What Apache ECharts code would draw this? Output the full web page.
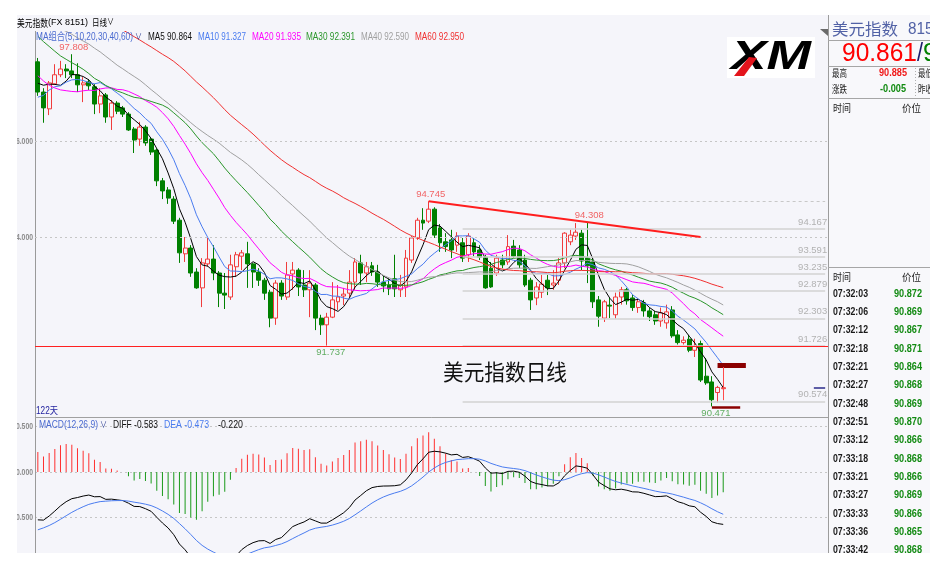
<!DOCTYPE html>
<html>
<head>
<meta charset="utf-8">
<script src="https://cdn.jsdelivr.net/npm/echarts/dist/echarts.min.js"></script>
<style>
  html, body { margin: 0; padding: 0; background: #ffffff; }
  #chart { width: 944px; height: 578px; }
</style>
</head>
<body>
<div id="chart"></div>
<script>
// ---- daily closes before the first drawn session (seed the moving averages and MACD only)
const earlierCloses = [
  99.0, 99.6, 100.2, 100.6, 100.7, 100.0, 100.1, 99.5, 99.5, 99.4, 98.9, 99.4, 100.0, 99.7, 99.9, 100.2, 100.4, 100.4, 100.4, 100.0, 99.8, 99.5, 99.0,
  99.1, 99.5, 99.8, 100.1, 99.9, 99.7, 100.2, 100.0, 100.2, 100.4, 100.4, 99.6, 99.5, 99.1, 99.4, 99.8, 99.8, 98.9, 99.0, 98.5, 98.3,
  97.8, 97.7, 97.3, 96.8, 96.9, 96.9, 96.3, 96.1, 96.7, 97.3, 96.7, 96.9, 97.1, 97.4, 97.6
];

// ---- daily candles (122 sessions)
const opens = [
  97.65, 97.02, 96.67, 97.19, 97.38, 97.50, 97.46, 97.38, 97.17, 97.23,
  97.13, 96.77, 96.96, 96.50, 96.79, 96.69, 96.56, 96.25, 96.04, 96.29,
  96.04, 95.81, 95.17, 94.98, 94.79, 94.35, 93.65, 93.77, 93.27, 92.94,
  93.44, 93.54, 93.25, 92.83, 92.75, 93.38, 93.60, 93.65, 93.44, 93.27,
  93.10, 92.85, 92.31, 93.04, 92.75, 93.23, 93.31, 93.00, 92.90, 93.00,
  92.31, 92.17, 92.33, 92.65, 92.77, 92.83, 93.06, 93.46, 93.25, 93.40,
  93.27, 93.06, 93.00, 93.13, 92.90, 92.96, 93.52, 93.98, 94.35, 94.33,
  94.58, 94.19, 93.90, 93.94, 93.83, 93.88, 93.63, 93.88, 93.73, 93.58,
  93.35, 93.25, 93.52, 93.48, 93.81, 93.73, 93.52, 93.10, 92.73, 92.85,
  93.10, 93.00, 93.10, 93.46, 93.90, 94.02, 94.08, 93.56, 93.48, 92.69,
  92.31, 92.58, 92.38, 92.75, 92.90, 92.73, 92.53, 92.63, 92.46, 92.38,
  92.25, 92.21, 92.48, 91.96, 91.80, 91.87, 91.64, 91.78, 91.10, 90.98,
  90.76, 90.84
];
const closes = [
  97.02, 96.69, 97.21, 97.38, 97.50, 97.46, 97.38, 97.17, 97.21, 97.15,
  96.77, 96.94, 96.50, 96.79, 96.62, 96.56, 96.23, 96.02, 96.29, 95.96,
  95.77, 95.17, 94.96, 94.81, 94.33, 93.67, 93.77, 93.25, 92.94, 93.46,
  93.54, 93.25, 92.83, 92.79, 93.42, 93.63, 93.67, 93.44, 93.27, 93.10,
  92.83, 92.31, 93.04, 92.77, 93.21, 93.31, 92.96, 92.90, 93.04, 92.31,
  92.17, 92.33, 92.69, 92.75, 92.81, 93.06, 93.48, 93.25, 93.38, 93.27,
  93.06, 92.98, 92.92, 92.92, 93.00, 93.56, 93.98, 94.35, 94.29, 94.58,
  94.04, 93.88, 93.80, 93.73, 94.02, 93.56, 94.02, 93.69, 93.58, 92.94,
  92.96, 93.56, 93.42, 93.80, 93.60, 93.42, 93.00, 92.69, 92.96, 93.02,
  92.94, 93.04, 93.46, 94.08, 94.04, 94.10, 93.50, 93.40, 92.65, 92.35,
  92.65, 92.56, 92.75, 92.90, 92.67, 92.53, 92.65, 92.46, 92.34, 92.25,
  92.42, 92.44, 91.94, 91.80, 91.85, 91.64, 91.72, 91.02, 90.96, 90.61,
  90.866, 90.861
];
const lows = [
  96.94, 96.38, 96.54, 97.17, 97.33, 97.31, 97.31, 97.02, 96.81, 97.06,
  96.56, 96.58, 96.38, 96.23, 96.56, 96.50, 96.21, 95.75, 95.90, 95.90,
  95.71, 95.06, 94.79, 94.69, 94.27, 93.46, 93.48, 93.17, 92.92, 92.54,
  93.38, 93.10, 92.54, 92.50, 92.69, 93.17, 93.31, 92.94, 92.94, 92.98,
  92.69, 92.12, 92.17, 92.69, 92.69, 92.90, 92.77, 92.75, 92.33, 92.06,
  91.96, 91.737, 92.31, 92.48, 92.58, 92.75, 92.90, 93.00, 93.06, 93.19,
  92.96, 92.85, 92.79, 92.75, 92.75, 92.75, 93.46, 93.94, 94.15, 94.29,
  93.98, 93.69, 93.69, 93.56, 93.69, 93.48, 93.48, 93.60, 93.52, 92.92,
  92.94, 93.19, 93.35, 93.42, 93.56, 93.35, 92.96, 92.48, 92.58, 92.73,
  92.79, 92.90, 93.00, 93.35, 93.83, 93.94, 93.31, 93.04, 92.52, 92.13,
  92.23, 92.31, 92.30, 92.59, 92.59, 92.46, 92.42, 92.34, 92.25, 92.17,
  92.13, 92.09, 91.90, 91.76, 91.76, 91.60, 91.50, 90.98, 90.92, 90.471,
  90.55, 90.83
];
const highs = [
  97.73, 97.10, 97.25, 97.60, 97.67, 97.60, 97.808, 97.62, 97.33, 97.29,
  97.19, 97.10, 97.00, 96.85, 96.83, 96.73, 96.60, 96.29, 96.40, 96.33,
  96.08, 95.85, 95.23, 95.04, 94.85, 94.40, 94.00, 93.83, 93.35, 93.56,
  93.98, 93.83, 93.29, 93.25, 93.63, 93.69, 93.73, 93.90, 93.46, 93.35,
  93.15, 92.90, 93.10, 93.10, 93.48, 93.48, 93.35, 93.31, 93.31, 93.04,
  92.38, 92.42, 93.06, 93.00, 92.94, 93.31, 93.56, 93.63, 93.48, 93.48,
  93.42, 93.19, 93.13, 93.63, 93.21, 93.73, 94.02, 94.40, 94.60, 94.745,
  94.62, 94.27, 94.08, 94.15, 94.10, 93.98, 94.08, 93.98, 93.83, 93.63,
  93.48, 93.63, 93.63, 94.04, 93.94, 93.83, 93.63, 93.15, 93.06, 93.21,
  93.21, 93.31, 93.56, 94.10, 94.15, 94.29, 94.15, 94.308, 93.56, 92.77,
  92.69, 92.73, 92.84, 92.96, 92.94, 92.80, 92.73, 92.69, 92.53, 92.46,
  92.53, 92.59, 92.56, 92.06, 91.93, 91.96, 91.88, 91.84, 91.48, 91.10,
  90.90, 90.885
];

// ---- indicator settings and header readouts
const maPeriods = [5, 10, 20, 30, 40, 60];
const maNames = ['MA5', 'MA10', 'MA20', 'MA30', 'MA40', 'MA60'];
const maReadouts = ['90.864', '91.327', '91.935', '92.391', '92.590', '92.950'];
const macdReadouts = ['-0.583', '-0.473', '-0.220'];
const priceTicks = [96, 94];
const macdTicks = [0.5, 0, -0.5];

// ---- drawn studies
const fibLevels = [94.167, 93.591, 93.235, 92.879, 92.303, 91.726, 90.574];
const fibTopLevel = 94.745;
const supportLevel = 91.726;
const trendFrom = [69, 94.745];
const trendTo = [117, 94.0];
const rangeTop = 91.32;
const rangeBottom = 90.46;
const extremes = [[6, 'high'], [69, 'high'], [97, 'high'], [51, 'low'], [119, 'low']];

// ---- quote panel
const quoteLast = '90.861';
const quoteHigh = '90.885';
const quoteChange = '-0.005';
const tickTimes = ['07:32:03', '07:32:06', '07:32:12', '07:32:18', '07:32:21', '07:32:27', '07:32:48', '07:32:51',
  '07:33:12', '07:33:18', '07:33:21', '07:33:27', '07:33:33', '07:33:36', '07:33:42'];
const tickPrices = ['90.872', '90.869', '90.867', '90.871', '90.864', '90.868', '90.869', '90.870',
  '90.866', '90.868', '90.866', '90.869', '90.866', '90.865', '90.868'];

// ---------------------------------------------------------------------------
const allCloses = earlierCloses.concat(closes);
const lead = earlierCloses.length;

function movingAverage(n) {
  return closes.map((_, i) => {
    const end = lead + i;
    let s = 0;
    for (let k = end - n + 1; k <= end; k++) s += allCloses[k];
    return +(s / n).toFixed(4);
  });
}
function ema(values, n) {
  const a = 2 / (n + 1);
  const out = [];
  values.forEach((v, i) => out.push(i === 0 ? v : out[i - 1] * (1 - a) + v * a));
  return out;
}
const ema12 = ema(allCloses, 12);
const ema26 = ema(allCloses, 26);
const diffAll = ema12.map((v, i) => v - ema26[i]);
const deaAll = ema(diffAll, 9);
const diffLine = diffAll.slice(lead).map(v => +v.toFixed(4));
const deaLine = deaAll.slice(lead).map(v => +v.toFixed(4));
const macdBars = diffLine.map((v, i) => +(2 * (v - deaLine[i])).toFixed(4));
const maLines = maPeriods.map(movingAverage);

const BG = '#f5f5fa';
const PANEL = '#f8f8fb';
const UP = '#f03c3c';
const DOWN = '#008000';
const maColors = ['#000000', '#4a7cf0', '#ff00ff', '#2a962a', '#a0a0a0', '#f03030'];
const SANS = 'Liberation Sans, Arial, Noto Sans CJK SC, sans-serif';
const CJK = 'Noto Sans CJK SC, sans-serif';

const slotCount = opens.length + 18;
const slots = Array.from({ length: slotCount }, (_, i) => 'S' + (i + 1));

const measure = document.createElement('canvas').getContext('2d');
function txt(str, x, y, o) {
  o = Object.assign({ size: 10, color: '#000', weight: 'normal', style: 'normal', family: SANS, align: 'left', width: 0, scale: 0, z: 120 }, o || {});
  let sx = o.scale || 1;
  if (o.width) {
    measure.font = `${o.style} ${o.weight} ${o.size}px ${o.family}`;
    sx = o.width / measure.measureText(str).width;
  }
  return {
    type: 'text', x: x, y: y, scaleX: sx, z: o.z, silent: true,
    style: { text: str, fontSize: o.size, fontFamily: o.family, fontWeight: o.weight, fontStyle: o.style,
      fill: o.color, align: o.align, verticalAlign: 'middle' }
  };
}
function rect(x, y, w, h, fill, z) {
  return { type: 'rect', z: z, silent: true, shape: { x: x, y: y, width: w, height: h }, style: { fill: fill } };
}
function hline(x1, x2, y, color, z, dash) {
  return { type: 'line', z: z, silent: true, shape: { x1: x1, y1: y, x2: x2, y2: y },
    style: { stroke: color, lineWidth: 1, lineDash: dash || null } };
}
function vline(x, y1, y2, color, z, dash) {
  return { type: 'line', z: z, silent: true, shape: { x1: x, y1: y1, x2: x, y2: y2 },
    style: { stroke: color, lineWidth: 1, lineDash: dash || null } };
}

// ---- marks drawn in price space on the candle series
const markLines = [];
priceTicks.forEach(v => markLines.push({ yAxis: v, lineStyle: { color: '#c6c6c6', type: [2, 3], width: 1 } }));
markLines.push([{ coord: [75, fibTopLevel], lineStyle: { color: '#c8c8c8', type: [3, 3], width: 1 } },
                { coord: [slotCount - 1, fibTopLevel] }]);
fibLevels.forEach(v => {
  markLines.push([{ coord: [75, v], lineStyle: { color: '#d2d2d2', type: 'solid', width: 1.5 },
      label: { show: true, position: 'insideEndTop', formatter: v.toFixed(3), color: '#b2b2b2',
        fontSize: 9.5, fontFamily: SANS, distance: [-2, 2] } },
    { coord: [slotCount - 1, v] }]);
});
markLines.push({ yAxis: supportLevel, lineStyle: { color: '#ff2020', type: 'solid', width: 1.2 } });
markLines.push([{ coord: trendFrom, lineStyle: { color: '#ff1e1e', type: 'solid', width: 2 } }, { coord: trendTo }]);
markLines.push([{ coord: [120, rangeTop], lineStyle: { color: '#8b0000', type: 'solid', width: 5 } }, { coord: [125, rangeTop] }]);
markLines.push([{ coord: [119, rangeBottom], lineStyle: { color: '#8b0000', type: 'solid', width: 2.5 } }, { coord: [124, rangeBottom] }]);
markLines.push([{ coord: [121, rangeTop - 0.03], lineStyle: { color: '#ff4a4a', type: 'solid', width: 1 } }, { coord: [121, 90.60] }]);
markLines.push([{ coord: [137, +quoteLast], lineStyle: { color: '#2a2a8a', type: 'solid', width: 1.5 } }, { coord: [slotCount - 1, +quoteLast] }]);

const series = [];
series.push({
  type: 'candlestick', xAxisIndex: 0, yAxisIndex: 0, barWidth: '78%',
  data: opens.map((o, i) => [o, closes[i], lows[i], highs[i]]),
  itemStyle: { color: BG, color0: DOWN, borderColor: UP, borderColor0: DOWN, borderWidth: 1 },
  markLine: { silent: true, symbol: ['none', 'none'], animation: false, label: { show: false }, data: markLines }
});
maLines.forEach((d, k) => series.push({
  type: 'line', xAxisIndex: 0, yAxisIndex: 0, data: d, showSymbol: false, symbol: 'none',
  lineStyle: { width: 1, color: maColors[k] }, itemStyle: { color: maColors[k] }, z: 3
}));
series.push({
  type: 'scatter', xAxisIndex: 0, yAxisIndex: 0, symbolSize: 0, z: 4,
  data: extremes.map(([i, kind]) => ({
    value: [i, kind === 'high' ? highs[i] : lows[i]],
    label: kind === 'high'
      ? { position: 'top', distance: 2, offset: [2, 0], color: '#f04040' }
      : { position: 'bottom', distance: 2, offset: [4, 0], color: '#3a9a3a' }
  })),
  label: { show: true, fontSize: 9.5, fontFamily: SANS, formatter: p => p.value[1].toFixed(3) }
});
series.push({
  type: 'bar', xAxisIndex: 1, yAxisIndex: 1, barWidth: 1, data: macdBars,
  itemStyle: { color: p => (p.value >= 0 ? '#ff3030' : '#1a9a1a') }
});
series.push({ type: 'line', xAxisIndex: 1, yAxisIndex: 1, data: diffLine, showSymbol: false, symbol: 'none',
  lineStyle: { width: 1, color: '#000000' }, z: 3 });
series.push({ type: 'line', xAxisIndex: 1, yAxisIndex: 1, data: deaLine, showSymbol: false, symbol: 'none',
  lineStyle: { width: 1, color: '#4a7cf0' }, z: 3 });

const chart = echarts.init(document.getElementById('chart'), null, { renderer: 'canvas' });
chart.setOption({
  animation: false,
  backgroundColor: BG,
  grid: [
    { left: 35, right: 116, top: 21, height: 408 },
    { left: 35, right: 116, top: 417.4, height: 145.6 }
  ],
  xAxis: [0, 1].map(k => ({
    type: 'category', gridIndex: k, data: slots, boundaryGap: true,
    axisLine: { show: false }, axisTick: { show: false }, axisLabel: { show: false }, splitLine: { show: false }
  })),
  yAxis: [
    { type: 'value', gridIndex: 0, min: 90, max: 98.5, interval: 2,
      axisLine: { show: true, lineStyle: { color: '#9a9a9a' } }, axisTick: { show: false },
      splitLine: { show: false }, axisLabel: { show: false } },
    { type: 'value', gridIndex: 1, min: -1, max: 0.6, interval: 0.5,
      axisLine: { show: true, lineStyle: { color: '#9a9a9a' } }, axisTick: { show: false },
      splitLine: { show: true, lineStyle: { color: '#c6c6c6', type: [2, 3] } }, axisLabel: { show: false } }
  ],
  series: series
});

// ---- overlay: axis readouts, frame, headers, quote panel
const g = [];
const LABEL_SCALE = 0.72;
priceTicks.forEach(v => g.push(txt(v.toFixed(3), 33, chart.convertToPixel({ yAxisIndex: 0 }, v),
  { size: 9.5, weight: 'bold', color: '#8c8c8c', align: 'right', scale: LABEL_SCALE, z: 105 })));
macdTicks.forEach(v => g.push(txt(v.toFixed(3), 33, chart.convertToPixel({ yAxisIndex: 1 }, v),
  { size: 9.5, weight: 'bold', color: '#8c8c8c', align: 'right', scale: LABEL_SCALE, z: 105 })));

g.push(rect(17, 15, 811, 16, BG, 110));
g.push(txt('美元指数', 17, 23, { size: 10, family: CJK, width: 31, z: 130 }));
g.push(txt('(FX 8151)', 48, 23, { size: 9, width: 40, z: 130 }));
g.push(txt('日线', 92, 23, { size: 9, family: CJK, width: 15, z: 130 }));
g.push(txt('∨', 107, 23, { size: 9, width: 7, z: 130 }));

g.push(txt('MA组合(5,10,20,30,40,60)', 36, 37, { size: 10, color: '#4a6ad0', width: 97 }));
g.push(txt('∨', 135, 38, { size: 9, color: '#2a3a90', width: 7 }));
const maLegendX = [148, 198, 252, 306, 361, 415];
const maLegendW = [44, 48, 49, 49, 48, 49];
maNames.forEach((n, k) => g.push(txt(n + ' ' + maReadouts[k], maLegendX[k], 37,
  { size: 10, color: maColors[k] === '#000000' ? '#111111' : maColors[k], width: maLegendW[k] })));

g.push(txt('122天', 36, 411, { size: 10, color: '#2424a0', width: 22 }));
g.push(hline(35, 828, 417.5, '#a0a0a0', 110));
g.push(txt('MACD(12,26,9)', 39, 425, { size: 10, color: '#4a6ad0', width: 59 }));
g.push(txt('∨', 100, 426, { size: 9, color: '#2a3a90', width: 7 }));
g.push(txt('DIFF ' + macdReadouts[0], 113, 425, { size: 10, color: '#111111', width: 45 }));
g.push(txt('DEA ' + macdReadouts[1], 164, 425, { size: 10, color: '#4a7cf0', width: 45 }));
g.push(txt(macdReadouts[2], 218, 425, { size: 10, color: '#111111', width: 25 }));

g.push(txt('美元指数日线', 443, 372, { size: 22, family: CJK, color: '#111111', width: 124 }));

// logo
g.push(rect(727, 37, 88, 41, '#ffffff', 110));
g.push(txt('XM', 731, 58, { size: 40, weight: 'bold', style: 'italic', color: '#000000', width: 80, z: 120 }));
g.push({ type: 'polygon', z: 125, silent: true, shape: { points: [[734, 76], [744, 76], [757, 58], [749, 57]] },
  style: { fill: '#e3141c' } });

// quote panel
g.push(rect(828, 15, 102, 538, PANEL, 140));
g.push(vline(828.5, 15, 553, '#9c9c9c', 150));
g.push({ type: 'polygon', z: 150, silent: true, shape: { points: [[820, 29], [828, 29], [828, 36]] }, style: { fill: '#6a6a6a' } });
g.push(txt('美元指数', 832, 29, { size: 16, family: CJK, color: '#5262a6', width: 66, z: 160 }));
g.push(txt('8151', 908, 30, { size: 16, color: '#5262a6', width: 34, z: 160 }));
g.push(hline(828, 930, 40.5, '#a6a6a6', 150));
g.push(txt(quoteLast, 842, 54, { size: 25, color: '#ff0000', width: 75, z: 160 }));
g.push(txt('/', 917, 54, { size: 25, color: '#1a1a6a', width: 6, z: 160 }));
g.push(txt('9', 923, 54, { size: 25, color: '#008000', width: 14, z: 160 }));
g.push(hline(828, 930, 66.5, '#a6a6a6', 150));
g.push(txt('最高', 832, 73, { size: 10, family: CJK, color: '#222', width: 15, z: 160 }));
g.push(txt(quoteHigh, 907, 73, { size: 10, weight: 'bold', color: '#f01818', width: 28, align: 'right', z: 160 }));
g.push(vline(915.5, 68, 96, '#b0b0b0', 150, [1, 2]));
g.push(txt('最低', 918, 73, { size: 10, family: CJK, color: '#222', width: 15, z: 160 }));
g.push(txt('涨跌', 832, 89, { size: 10, family: CJK, color: '#222', width: 15, z: 160 }));
g.push(txt(quoteChange, 906, 89, { size: 10, weight: 'bold', color: '#108a10', width: 26, align: 'right', z: 160 }));
g.push(txt('昨收', 918, 89, { size: 10, family: CJK, color: '#222', width: 15, z: 160 }));
g.push(hline(828, 930, 98.5, '#a6a6a6', 150));
g.push(txt('时间', 833, 108, { size: 10, family: CJK, color: '#222', width: 18, z: 160 }));
g.push(txt('价位', 902, 108, { size: 10, family: CJK, color: '#222', width: 19, z: 160 }));
g.push(hline(828, 930, 267.5, '#a6a6a6', 150));
g.push(txt('时间', 833, 277, { size: 10, family: CJK, color: '#222', width: 18, z: 160 }));
g.push(txt('价位', 902, 277, { size: 10, family: CJK, color: '#222', width: 19, z: 160 }));
tickTimes.forEach((t, k) => {
  const y = 294 + k * 18.33;
  g.push(txt(t, 833, y, { size: 10, weight: 'bold', color: '#1a1a1a', width: 35, z: 160 }));
  g.push(txt(tickPrices[k], 922, y, { size: 10, weight: 'bold', color: '#128a12', width: 28, align: 'right', z: 160 }));
});

// outer white margins
g.push(rect(0, 0, 944, 15, '#ffffff', 200));
g.push(rect(0, 0, 17, 578, '#ffffff', 200));
g.push(rect(0, 553, 944, 25, '#ffffff', 200));
g.push(rect(930, 0, 14, 578, '#ffffff', 200));

chart.setOption({ graphic: { elements: g } });
</script>
</body>
</html>
